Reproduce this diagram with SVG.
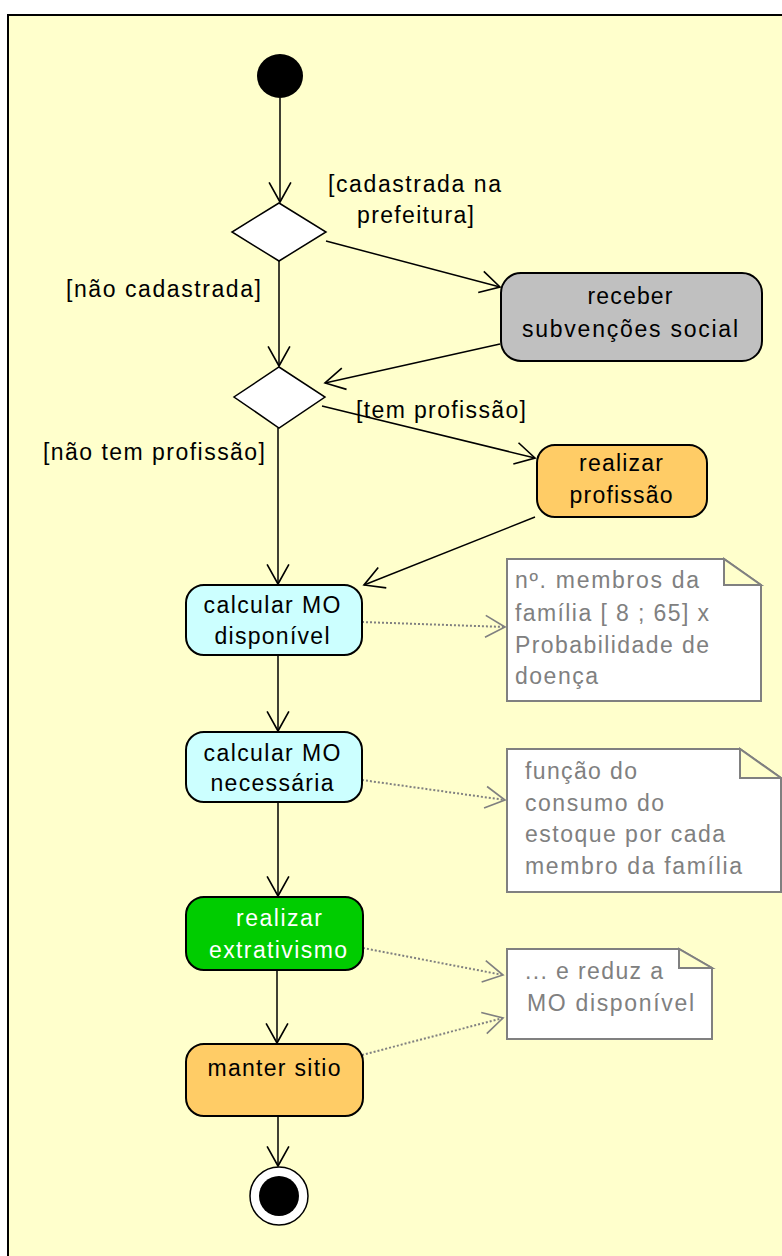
<svg xmlns="http://www.w3.org/2000/svg" width="782" height="1256" viewBox="0 0 782 1256">
<defs>
<style>
.lbl{font-family:"Liberation Sans",Arial,sans-serif;font-size:23px;fill:#000}
.ntx{font-family:"Liberation Sans",Arial,sans-serif;font-size:23px;fill:#000;text-anchor:middle}
.wtx{fill:#fff}
.gtx{font-family:"Liberation Sans",Arial,sans-serif;font-size:23px;fill:#808080}
.node{stroke:#000;stroke-width:2}
.dec{fill:#fff;stroke:#000;stroke-width:1.5}
.flow{fill:none;stroke:#000;stroke-width:1.5;marker-end:url(#arr)}
.dep{fill:none;stroke:#808080;stroke-width:2;stroke-dasharray:2 2;marker-end:url(#garr)}
.note{fill:#fff;stroke:#808080;stroke-width:2}
.fold{fill:#FFFFCC;stroke:#808080;stroke-width:2}
</style>
<marker id="arr" markerUnits="userSpaceOnUse" markerWidth="24" markerHeight="24" refX="20" refY="10" orient="auto" viewBox="0 0 22 20" overflow="visible"><path d="M2,0 L20,10 L2,20" fill="none" stroke="#000" stroke-width="1.5"/></marker>
<marker id="garr" markerUnits="userSpaceOnUse" markerWidth="24" markerHeight="24" refX="20" refY="10" orient="auto" viewBox="0 0 22 20" overflow="visible"><path d="M2,0 L20,10 L2,20" fill="none" stroke="#808080" stroke-width="1.5"/></marker>
</defs>
<rect x="0" y="0" width="782" height="1256" fill="#fff"/>
<rect x="8" y="15" width="800" height="1270" fill="#FFFFCC" stroke="#000" stroke-width="2"/>

<g id="connectors">
<line class="flow" x1="280" y1="98" x2="280" y2="202"/>
<line class="flow" x1="279" y1="261" x2="279" y2="366"/>
<line class="flow" x1="326" y1="241" x2="500" y2="287"/>
<line class="flow" x1="500" y1="344" x2="325" y2="383"/>
<line class="flow" x1="322" y1="406" x2="535" y2="458"/>
<line class="flow" x1="278" y1="428" x2="278" y2="584"/>
<line class="flow" x1="535" y1="517" x2="364" y2="585"/>
<line class="flow" x1="278" y1="655" x2="278" y2="731"/>
<line class="flow" x1="278" y1="802" x2="278" y2="896"/>
<line class="flow" x1="277" y1="970" x2="277" y2="1043"/>
<line class="flow" x1="278" y1="1116" x2="278" y2="1166"/>
<path class="dep" d="M362,622 L505,627"/>
<path class="dep" d="M362,780 L505,800"/>
<path class="dep" d="M363,948 L503,975"/>
<path class="dep" d="M362,1055 L503,1018"/>
</g>

<g id="start"><ellipse cx="280" cy="76" rx="23" ry="22" fill="#000"/></g>

<g id="decision1"><polygon class="dec" points="279,203 326,232 279,261 232,232"/></g>
<g id="decision2"><polygon class="dec" points="279,367 325,397 279,428 234,397"/></g>

<g id="labels">
<text class="lbl" x="328" y="192" textLength="173" lengthAdjust="spacing">[cadastrada na</text>
<text class="lbl" x="357" y="223" textLength="117" lengthAdjust="spacing">prefeitura]</text>
<text class="lbl" x="66" y="297" textLength="195" lengthAdjust="spacing">[não cadastrada]</text>
<text class="lbl" x="356" y="418" textLength="170" lengthAdjust="spacing">[tem profissão]</text>
<text class="lbl" x="43" y="460" textLength="222" lengthAdjust="spacing">[não tem profissão]</text>
</g>

<g id="receber">
<rect class="node" x="501" y="273" width="261" height="88" rx="20" fill="#C0C0C0"/>
<text class="ntx" x="630" y="304" textLength="85" lengthAdjust="spacing">receber</text>
<text class="ntx" x="630" y="337" textLength="216" lengthAdjust="spacing">subvenções social</text>
</g>

<g id="realizarProfissao">
<rect class="node" x="537" y="445" width="170" height="72" rx="18" fill="#FFCC66"/>
<text class="ntx" x="621" y="471" textLength="84" lengthAdjust="spacing">realizar</text>
<text class="ntx" x="621" y="503" textLength="103" lengthAdjust="spacing">profissão</text>
</g>

<g id="calcDisponivel">
<rect class="node" x="186" y="585" width="176" height="70" rx="18" fill="#CCFFFF"/>
<text class="ntx" x="272" y="613" textLength="137" lengthAdjust="spacing">calcular MO</text>
<text class="ntx" x="272" y="644" textLength="115" lengthAdjust="spacing">disponível</text>
</g>

<g id="calcNecessaria">
<rect class="node" x="186" y="732" width="176" height="70" rx="18" fill="#CCFFFF"/>
<text class="ntx" x="272" y="761" textLength="137" lengthAdjust="spacing">calcular MO</text>
<text class="ntx" x="272" y="791" textLength="123" lengthAdjust="spacing">necessária</text>
</g>

<g id="extrativismo">
<rect class="node" x="186" y="897" width="177" height="73" rx="18" fill="#00CC00"/>
<text class="ntx wtx" x="279" y="926" textLength="86" lengthAdjust="spacing">realizar</text>
<text class="ntx wtx" x="278" y="958" textLength="138" lengthAdjust="spacing">extrativismo</text>
</g>

<g id="manterSitio">
<rect class="node" x="186" y="1044" width="177" height="72" rx="18" fill="#FFCC66"/>
<text class="ntx" x="274" y="1076" textLength="133" lengthAdjust="spacing">manter sitio</text>
</g>

<g id="end">
<circle cx="279" cy="1196" r="29" fill="#fff" stroke="#000" stroke-width="1.5"/>
<circle cx="279" cy="1196" r="20" fill="#000"/>
</g>

<g id="note1">
<path class="note" d="M507,559 L724,559 L761,585 L761,701 L507,701 Z"/>
<path class="fold" d="M724,559 L724,585 L761,585 Z"/>
<text class="gtx" x="515" y="588" textLength="184" lengthAdjust="spacing">nº. membros da</text>
<text class="gtx" x="515" y="621" textLength="194" lengthAdjust="spacing">família [ 8 ; 65] x</text>
<text class="gtx" x="515" y="653" textLength="194" lengthAdjust="spacing">Probabilidade de</text>
<text class="gtx" x="515" y="684" textLength="83" lengthAdjust="spacing">doença</text>
</g>

<g id="note2">
<path class="note" d="M507,749 L740,749 L781,778 L781,892 L507,892 Z"/>
<path class="fold" d="M740,749 L740,778 L781,778 Z"/>
<text class="gtx" x="525" y="779" textLength="112" lengthAdjust="spacing">função do</text>
<text class="gtx" x="525" y="811" textLength="139" lengthAdjust="spacing">consumo do</text>
<text class="gtx" x="525" y="842" textLength="200" lengthAdjust="spacing">estoque por cada</text>
<text class="gtx" x="525" y="874" textLength="217" lengthAdjust="spacing">membro da família</text>
</g>

<g id="note3">
<path class="note" d="M507,949 L679,949 L712,968 L712,1039 L507,1039 Z"/>
<path class="fold" d="M679,949 L679,968 L712,968 Z"/>
<text class="gtx" x="525" y="979" textLength="138" lengthAdjust="spacing">... e reduz a</text>
<text class="gtx" x="527" y="1011" textLength="167" lengthAdjust="spacing">MO disponível</text>
</g>
</svg>
